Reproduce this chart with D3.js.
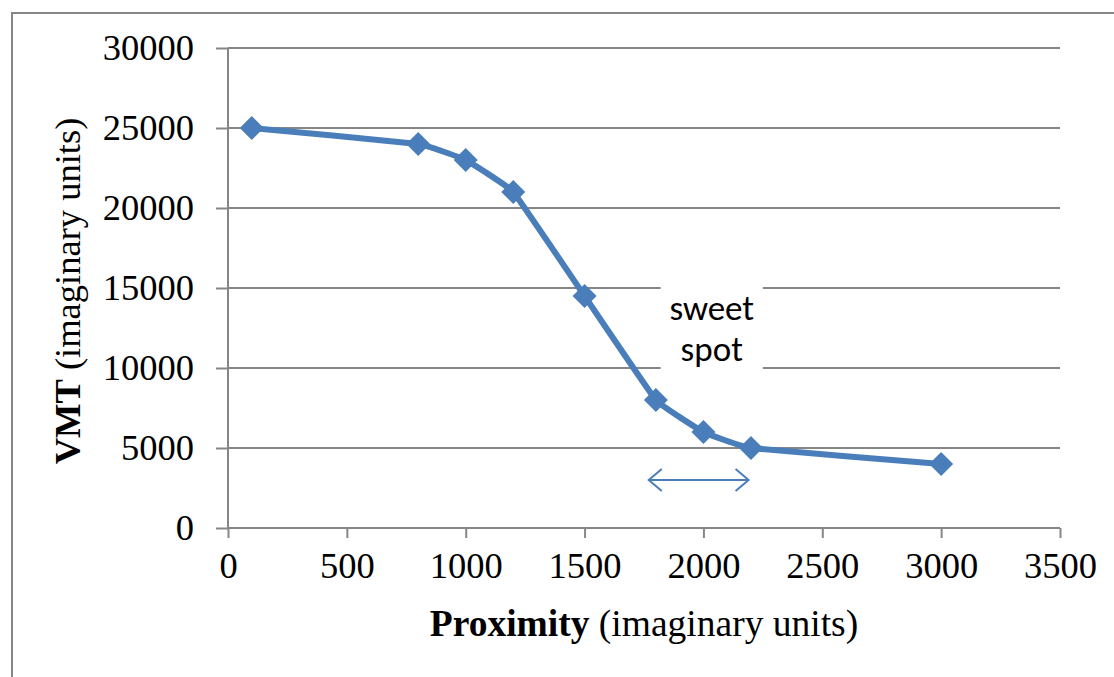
<!DOCTYPE html>
<html>
<head>
<meta charset="utf-8">
<script src="https://cdn.jsdelivr.net/npm/d3@7"></script>
<style>
  body { margin: 0; background: #fff; }
  svg { display: block; }
</style>
</head>
<body>
<svg id="chart" width="1114" height="677"></svg>
<script>
// values
const proximity = [100, 800, 1000, 1200, 1500, 1800, 2000, 2200, 3000];
const vmt = [25000, 24000, 23000, 21000, 14500, 8000, 6000, 5000, 4000];
const xTicks = [0, 500, 1000, 1500, 2000, 2500, 3000, 3500];
const yTicks = [0, 5000, 10000, 15000, 20000, 25000, 30000];
const noteLines = ["sweet", "spot"];
const noteBox = { x0: 1820, x1: 2250, y0: 9800, y1: 15200 };
const arrowSpan = { x0: 1770, x1: 2190, y: 3000 };

const width = 1114, height = 677;
const margin = { left: 228, right: 54, top: 48, bottom: 149 };
const blue = "#4a7ebb", grey = "#868686";
const serif = "'Liberation Serif', 'Times New Roman', serif";
const fs = "36.5px";

const svg = d3.select("#chart");

// outer chart frame (runs off the right and bottom edge)
svg.append("rect")
  .attr("x", 12).attr("y", 13)
  .attr("width", width + 20).attr("height", height + 20)
  .attr("fill", "none").attr("stroke", grey).attr("stroke-width", 2);

const x = d3.scaleLinear().domain([0, 3500]).range([margin.left, width - margin.right]);
const y = d3.scaleLinear().domain([0, 30000]).range([height - margin.bottom, margin.top]);

// gridlines
svg.append("g")
  .selectAll("line")
  .data(yTicks.filter(d => d > 0))
  .join("line")
    .attr("x1", x(0)).attr("x2", x(3500))
    .attr("y1", d => y(d)).attr("y2", d => y(d))
    .attr("stroke", grey).attr("stroke-width", 2);

const yAxis = svg.append("g")
  .attr("transform", `translate(${x(0)},0)`)
  .call(d3.axisLeft(y).tickValues(yTicks).tickSize(12).tickPadding(22).tickFormat(d3.format("d")));

const xAxis = svg.append("g")
  .attr("transform", `translate(0,${y(0)})`)
  .call(d3.axisBottom(x).tickValues(xTicks).tickSize(10).tickPadding(14).tickFormat(d3.format("d")));

[yAxis, xAxis].forEach(g => {
  g.select(".domain").attr("stroke", grey).attr("stroke-width", 2);
  g.selectAll(".tick line").attr("stroke", grey).attr("stroke-width", 2);
  g.selectAll("text")
    .attr("fill", "#000")
    .style("font-family", serif)
    .style("font-size", fs);
});
xAxis.select(".domain").attr("d", `M${x(0)},0H${x(3500)}`);
yAxis.select(".domain").attr("d", `M0,${y(0)}V${y(30000)}`);

// axis titles
const xt = svg.append("text")
  .attr("x", 644).attr("y", 636)
  .attr("text-anchor", "middle")
  .style("font-family", serif).style("font-size", "37.5px");
xt.append("tspan").attr("font-weight", "bold").text("Proximity");
xt.append("tspan").text(" (imaginary units)");

const yt = svg.append("text")
  .attr("transform", `translate(80,${(y(0) + y(30000)) / 2 + 3}) rotate(-90)`)
  .attr("text-anchor", "middle")
  .style("font-family", serif).style("font-size", fs);
yt.append("tspan").attr("font-weight", "bold").text("VMT");
yt.append("tspan").text(" (imaginary units)");

// the series
const pts = proximity.map((p, i) => [p, vmt[i]]);

svg.append("path")
  .datum(pts)
  .attr("fill", "none")
  .attr("stroke", blue)
  .attr("stroke-width", 6)
  .attr("stroke-linejoin", "round")
  .attr("d", d3.line().x(d => x(d[0])).y(d => y(d[1])).curve(d3.curveCardinal.tension(0.75)));

svg.append("g")
  .selectAll("path")
  .data(pts)
  .join("path")
    .attr("transform", d => `translate(${x(d[0])},${y(d[1])})`)
    .attr("d", "M0,-12L12,0L0,12L-12,0Z")
    .attr("fill", blue);

// "sweet spot" note with white box
svg.append("rect")
  .attr("x", x(noteBox.x0)).attr("y", y(noteBox.y1))
  .attr("width", x(noteBox.x1) - x(noteBox.x0))
  .attr("height", y(noteBox.y0) - y(noteBox.y1))
  .attr("fill", "#fff");

svg.append("g")
  .selectAll("text")
  .data(noteLines)
  .join("text")
    .attr("x", (x(noteBox.x0) + x(noteBox.x1)) / 2)
    .attr("y", (d, i) => 320 + i * 41)
    .attr("text-anchor", "middle")
    .style("font-family", "Carlito, Lato, 'Open Sans', sans-serif")
    .style("font-size", "35px")
    .attr("fill", "#000")
    .text(d => d);

// double-headed arrow
const ax0 = x(arrowSpan.x0), ax1 = x(arrowSpan.x1), ay = y(arrowSpan.y);
const arrow = svg.append("g").attr("stroke", blue).attr("stroke-width", 2).attr("fill", "none");
arrow.append("line").attr("x1", ax0).attr("x2", ax1).attr("y1", ay).attr("y2", ay);
arrow.append("path").attr("d", `M${ax0 + 13},${ay - 11}L${ax0},${ay}L${ax0 + 13},${ay + 11}`);
arrow.append("path").attr("d", `M${ax1 - 13},${ay - 11}L${ax1},${ay}L${ax1 - 13},${ay + 11}`);
</script>
</body>
</html>
